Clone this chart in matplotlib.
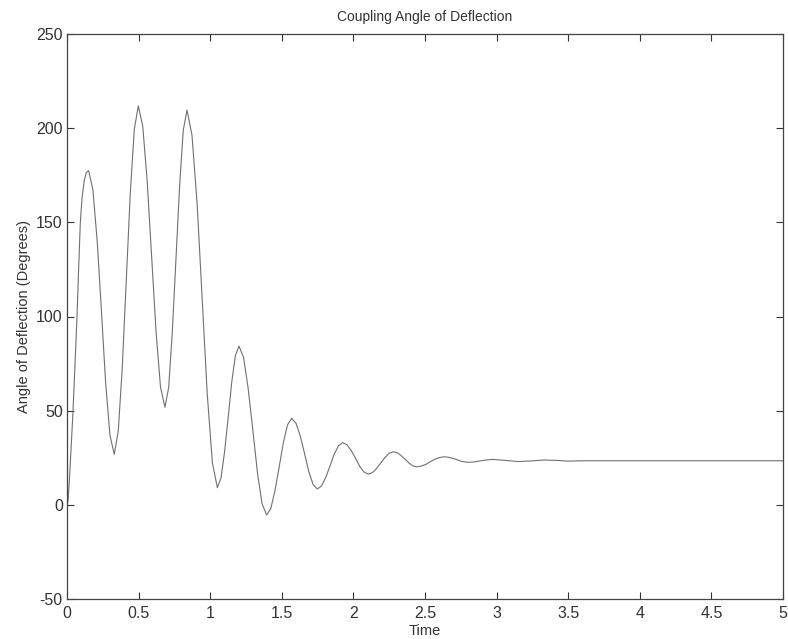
import numpy as np
import matplotlib
matplotlib.use('Agg')
import matplotlib.pyplot as plt

plt.rcParams['font.family'] = ['Liberation Sans', 'DejaVu Sans']
plt.rcParams['axes.unicode_minus'] = False

# values
time = [0.000, 0.007, 0.015, 0.023, 0.032, 0.042, 0.056, 0.070, 0.082, 0.093,
        0.105, 0.120, 0.135, 0.151,
        0.181, 0.211, 0.241, 0.270, 0.300, 0.330,
        0.358, 0.386, 0.414, 0.442, 0.470, 0.498,
        0.529, 0.560, 0.591, 0.622, 0.653, 0.684,
        0.710, 0.735, 0.761, 0.787, 0.812, 0.838,
        0.873, 0.909, 0.944, 0.979, 1.015, 1.050,
        1.075, 1.100, 1.126, 1.151, 1.176, 1.201,
        1.233, 1.265, 1.298, 1.330, 1.362, 1.394,
        1.423, 1.452, 1.482, 1.511, 1.540, 1.569,
        1.599, 1.629, 1.659, 1.688, 1.718, 1.748,
        1.778, 1.807, 1.837, 1.866, 1.896, 1.925,
        1.955, 1.985, 2.015, 2.044, 2.074, 2.104,
        2.133, 2.162, 2.192, 2.221, 2.250, 2.279,
        2.306, 2.333, 2.361, 2.388, 2.415, 2.442,
        2.474, 2.506, 2.537, 2.569, 2.601, 2.633,
        2.661, 2.690, 2.718, 2.746, 2.775, 2.803,
        2.832, 2.861, 2.890, 2.919, 2.948, 2.977,
        3.060, 3.150, 3.240, 3.330, 3.420, 3.500, 3.600, 4.000, 4.500, 5.000]
angle = [0.0, 2.0, 11.0, 22.0, 35.0, 50.0, 75.0, 100.0, 127.0, 150.0,
         163.0, 172.0, 176.5, 177.4,
         167.3, 139.8, 102.1, 64.5, 36.9, 26.8,
         39.2, 73.0, 119.3, 165.6, 199.4, 211.8,
         201.1, 171.8, 131.8, 91.8, 62.5, 51.8,
         62.4, 91.3, 130.7, 170.1, 199.0, 209.6,
         196.2, 159.5, 109.4, 59.2, 22.5, 9.1,
         14.1, 27.9, 46.7, 65.5, 79.3, 84.3,
         78.3, 61.9, 39.5, 17.0, 0.6, -5.4,
         -2.0, 7.4, 20.3, 33.1, 42.5, 45.9,
         43.4, 36.5, 27.2, 17.8, 10.9, 8.4,
         10.1, 14.6, 20.7, 26.9, 31.4, 33.0,
         31.9, 28.8, 24.7, 20.5, 17.4, 16.3,
         17.1, 19.3, 22.3, 25.2, 27.4, 28.2,
         27.7, 26.2, 24.2, 22.2, 20.7, 20.2,
         20.6, 21.5, 22.9, 24.2, 25.1, 25.5,
         25.3, 24.8, 24.1, 23.3, 22.8, 22.6,
         22.7, 23.0, 23.4, 23.7, 24.0, 24.1,
         23.6, 23.0, 23.3, 23.8, 23.6, 23.2, 23.4, 23.4, 23.4, 23.4]

xticks = [0, 0.5, 1, 1.5, 2, 2.5, 3, 3.5, 4, 4.5, 5]
xticklabels = ['0', '0.5', '1', '1.5', '2', '2.5', '3', '3.5', '4', '4.5', '5']
yticks = [-50, 0, 50, 100, 150, 200, 250]

fig = plt.figure(figsize=(7.88, 6.39), dpi=100)
ax = fig.add_axes([67 / 788, 40 / 639, 716 / 788, 565 / 639])

ax.plot(time, angle, color='#707070', linewidth=0.8, solid_joinstyle='round')

ax.set_xlim(0, 5)
ax.set_ylim(-50, 250)
ax.set_xticks(xticks)
ax.set_xticklabels(xticklabels)
ax.set_yticks(yticks)

ax.tick_params(direction='in', length=5, width=0.8, colors='#333333',
               labelsize=11.5, top=True, right=True, pad=3)
ax.tick_params(axis='x', pad=5)
for s in ax.spines.values():
    s.set_color('#444444')
    s.set_linewidth(0.9)

ax.set_title('Coupling Angle of Deflection', fontsize=10, color='#333333', pad=9)
ax.set_xlabel('Time', fontsize=10.5, color='#333333', labelpad=2)
ax.set_ylabel('Angle of Deflection (Degrees)', fontsize=10.5, color='#333333', labelpad=4)

fig.savefig('out.png', dpi=100)
